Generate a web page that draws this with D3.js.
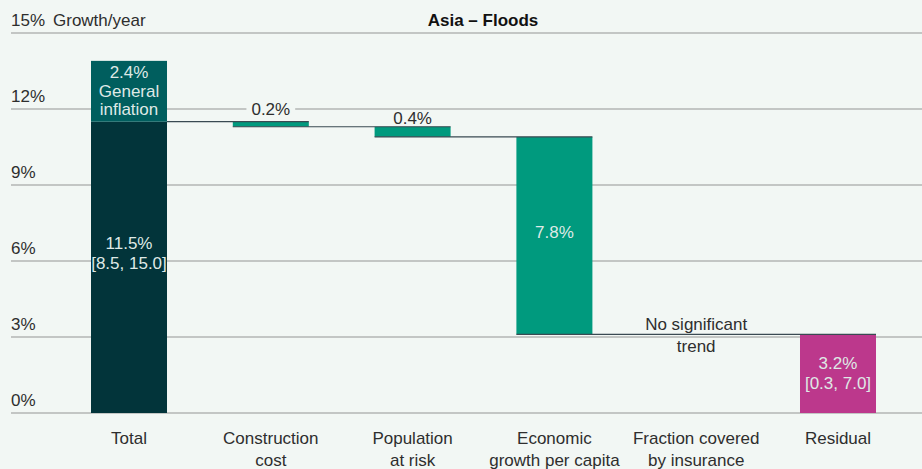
<!DOCTYPE html>
<html><head><meta charset="utf-8">
<script src="https://cdn.jsdelivr.net/npm/d3@7"></script>
<style>
html,body{margin:0;padding:0;background:#F2F7F4;}
svg{display:block;font-family:"Liberation Sans",Arial,sans-serif;}
</style></head>
<body><svg id="c" width="922" height="469"></svg>
<script>
const title = "Asia – Floods";
const yUnit = "Growth/year";
const yTicks = [0, 3, 6, 9, 12, 15];
const categories = ["Total","Construction cost","Population at risk","Economic growth per capita","Fraction covered by insurance","Residual"];
const categoryLines = [["Total"],["Construction","cost"],["Population","at risk"],["Economic","growth per capita"],["Fraction covered","by insurance"],["Residual"]];
const totalValue = 11.5;
const totalLabel = ["11.5%","[8.5, 15.0]"];
const inflationValue = 2.4;
const inflationLabel = ["2.4%","General","inflation"];
const stepValues = [0.2, 0.4, 7.8, 0];       // Construction, Population, Economic, Fraction
const stepLabels = ["0.2%","0.4%","7.8%","No significant trend"];
const residualLabel = ["3.2%","[0.3, 7.0]"];

const FS = 17;
const textCol = "#2e2e2e";
const bg = "#F2F7F4";
const svg = d3.select("#c");
const W = 922, H = 469;
const y = d3.scaleLinear().domain([0, 15]).range([413, 33]);
const x = d3.scaleBand().domain(categories).range([91, 876]).paddingInner(0.464).paddingOuter(0);
const bw = x.bandwidth();

// gridlines
svg.append("g").selectAll("line").data(yTicks).join("line")
  .attr("x1", 11).attr("x2", W).attr("y1", d => y(d)).attr("y2", d => y(d))
  .attr("stroke", "#b3b6b4").attr("stroke-width", 1.3);
svg.append("g").selectAll("text").data(yTicks).join("text")
  .attr("x", 11).attr("y", d => y(d) - 7)
  .attr("font-size", FS).attr("fill", textCol)
  .text(d => d + "%");
svg.append("text").attr("x", 53).attr("y", y(15) - 7).attr("font-size", FS).attr("fill", textCol).text(yUnit);
svg.append("text").attr("x", 483).attr("y", y(15) - 7).attr("text-anchor", "middle")
  .attr("font-size", FS).attr("font-weight", "bold").attr("fill", "#111").text(title);

// waterfall levels
const levels = [totalValue];
stepValues.forEach(v => levels.push(levels[levels.length - 1] - v));
const residualValue = levels[levels.length - 1];

// bars
const barG = svg.append("g");
barG.append("rect").attr("x", x(categories[0])).attr("width", bw)
  .attr("y", y(totalValue)).attr("height", y(0) - y(totalValue)).attr("fill", "#02343A");
barG.append("rect").attr("x", x(categories[0])).attr("width", bw)
  .attr("y", y(totalValue + inflationValue)).attr("height", y(totalValue) - y(totalValue + inflationValue)).attr("fill", "#005E5E");
stepValues.forEach((v, i) => {
  if (v === 0) return;
  const top = levels[i], bot = levels[i + 1];
  barG.append("rect").attr("x", x(categories[i + 1])).attr("width", bw)
    .attr("y", y(top)).attr("height", y(bot) - y(top)).attr("fill", "#009A7E");
});
barG.append("rect").attr("x", x(categories[5])).attr("width", bw)
  .attr("y", y(residualValue)).attr("height", y(0) - y(residualValue)).attr("fill", "#BC388C");

// connectors
const conn = svg.append("g").attr("stroke", "#3a4a52").attr("stroke-width", 1.2);
levels.forEach((lv, i) => {
  if (i >= 4) return;
  const xStart = i === 0 ? x(categories[0]) + bw : x(categories[i]);
  const xEnd = i === 3 ? x(categories[5]) + bw : x(categories[i + 1]) + bw;
  conn.append("line").attr("x1", xStart).attr("x2", xEnd)
    .attr("y1", y(lv)).attr("y2", y(lv));
});

// labels
const lightText = "#dfe9e6";
function lines(arr, cx, cy, lh, fill) {
  const n = arr.length;
  arr.forEach((t, k) => {
    svg.append("text").attr("x", cx).attr("y", cy + (k - (n - 1) / 2) * lh)
      .attr("text-anchor", "middle").attr("dominant-baseline", "central")
      .attr("font-size", FS).attr("fill", fill).text(t);
  });
}
const cx = c => x(c) + bw / 2;
lines(totalLabel, cx(categories[0]), (y(0) + y(totalValue)) / 2 - 14, 20, lightText);
lines(inflationLabel, cx(categories[0]), (y(totalValue) + y(totalValue + inflationValue)) / 2, 18.5, lightText);
lines(residualLabel, cx(categories[5]), (y(0) + y(residualValue)) / 2, 20, lightText);

// small step labels above bars (first one masks the gridline behind it)
const aboveOffsets = [12, 8];
[0, 1].forEach(i => {
  const t = svg.append("text").attr("x", cx(categories[i + 1])).attr("y", y(levels[i]) - aboveOffsets[i])
    .attr("text-anchor", "middle").attr("dominant-baseline", "central")
    .attr("font-size", FS).attr("fill", textCol).text(stepLabels[i]);
  if (i === 0) {
    const bb = t.node().getBBox();
    svg.insert("rect", () => t.node()).attr("x", bb.x - 5).attr("y", bb.y + 3).attr("width", bb.width + 10).attr("height", bb.height - 6)
      .attr("fill", bg);
  }
});
lines([stepLabels[2]], cx(categories[3]), (y(levels[2]) + y(levels[3])) / 2 - 3, 20, lightText);
lines(["No significant", "trend"], cx(categories[4]), y(levels[4]) + 1, 22, textCol);

// x labels
categoryLines.forEach((arr, i) => {
  arr.forEach((t, k) => {
    svg.append("text").attr("x", cx(categories[i])).attr("y", 438 + k * 22)
      .attr("text-anchor", "middle").attr("dominant-baseline", "central")
      .attr("font-size", FS).attr("fill", textCol).text(t);
  });
});
</script></body></html>
